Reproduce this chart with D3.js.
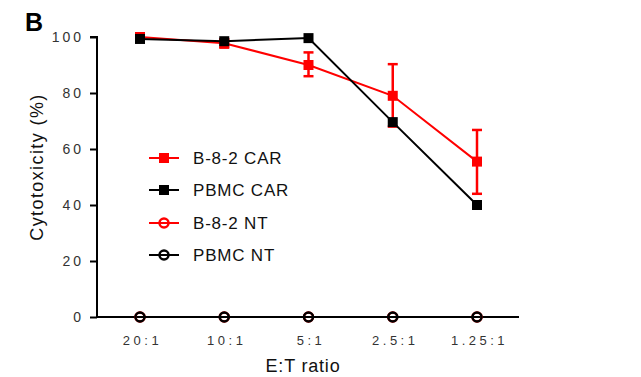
<!DOCTYPE html>
<html>
<head>
<meta charset="utf-8">
<script src="https://cdn.jsdelivr.net/npm/d3@7"></script>
<style>
body { margin: 0; background: #fff; }
text { font-family: "Liberation Sans", Arial, sans-serif; }
</style>
</head>
<body>
<div id="chart"></div>
<script>
var ratios = ["20:1", "10:1", "5:1", "2.5:1", "1.25:1"];
var yTicks = [0, 20, 40, 60, 80, 100];

var b82Car = [100, 97.8, 90, 79, 55.5];
var b82CarLo = [99, 96.2, 86, 68, 44];
var b82CarHi = [100.5, 99.2, 94.5, 90.3, 66.8];
var pbmcCar = [99.3, 98.5, 99.6, 69.6, 40];
var b82Nt = [0, 0, 0, 0, 0];
var pbmcNt = [0, 0, 0, 0, 0];

var legendNames = ["B-8-2 CAR", "PBMC CAR", "B-8-2 NT", "PBMC NT"];

var svg = d3.select("#chart")
    .append("svg")
    .attr("width", 641)
    .attr("height", 377);

var x = d3.scalePoint()
    .domain(ratios)
    .range([140, 477]);

var y = d3.scaleLinear()
    .domain([0, 100])
    .range([317, 37]);

// panel letter
svg.append("text")
    .attr("x", 25)
    .attr("y", 31)
    .attr("font-size", 25)
    .attr("font-weight", "bold")
    .attr("fill", "#000")
    .text("B");

// y axis
var yAxis = svg.append("g")
    .attr("transform", "translate(97,0)")
    .call(d3.axisLeft(y).tickValues(yTicks).tickSize(7).tickPadding(6));
yAxis.select(".domain").attr("stroke-width", 2).attr("d", "M-7," + y(100) + "H0V" + y(0));
yAxis.selectAll(".tick line").attr("stroke-width", 2);
yAxis.selectAll(".tick text")
    .attr("font-size", 14)
    .attr("fill", "#333")
    .style("letter-spacing", "3px");

// x axis
var xAxis = svg.append("g")
    .attr("transform", "translate(0,317)")
    .call(d3.axisBottom(x).tickSize(0).tickPadding(19));
xAxis.select(".domain").attr("stroke-width", 2).attr("d", "M97,0H519");
xAxis.selectAll(".tick text")
    .attr("font-size", 13)
    .attr("fill", "#333")
    .attr("dx", 2)
    .style("letter-spacing", "3.5px");

svg.append("text")
    .attr("x", 303)
    .attr("y", 372)
    .attr("text-anchor", "middle")
    .attr("font-size", 18)
    .attr("fill", "#111")
    .style("letter-spacing", "0.8px")
    .text("E:T ratio");

svg.append("text")
    .attr("transform", "translate(43,167) rotate(-90)")
    .attr("text-anchor", "middle")
    .attr("font-size", 18)
    .attr("fill", "#111")
    .style("letter-spacing", "1.4px")
    .text("Cytotoxicity (%)");

var line = d3.line()
    .x(function (d, i) { return x(ratios[i]); })
    .y(function (d) { return y(d); });

// red error bars
ratios.forEach(function (r, i) {
    var cx = x(r);
    svg.append("line")
        .attr("x1", cx).attr("x2", cx)
        .attr("y1", y(b82CarHi[i])).attr("y2", y(b82CarLo[i]))
        .style("stroke", "#ff0000").style("stroke-width", 2.5);
    [b82CarHi[i], b82CarLo[i]].forEach(function (v) {
        svg.append("line")
            .attr("x1", cx - 5).attr("x2", cx + 5)
            .attr("y1", y(v)).attr("y2", y(v))
            .style("stroke", "#ff0000").style("stroke-width", 2.5);
    });
});

function drawSquares(data, color) {
    svg.append("path")
        .datum(data)
        .attr("d", line)
        .attr("fill", "none")
        .style("stroke", color)
        .style("stroke-width", 2);
    svg.selectAll(null)
        .data(data)
        .enter()
        .append("rect")
        .attr("x", function (d, i) { return x(ratios[i]) - 5; })
        .attr("y", function (d) { return y(d) - 5; })
        .attr("width", 10)
        .attr("height", 10)
        .style("fill", color);
}

function drawCircles(data, color) {
    svg.append("path")
        .datum(data)
        .attr("d", line)
        .attr("fill", "none")
        .style("stroke", color)
        .style("stroke-width", 2);
    svg.selectAll(null)
        .data(data)
        .enter()
        .append("circle")
        .attr("cx", function (d, i) { return x(ratios[i]); })
        .attr("cy", function (d) { return y(d); })
        .attr("r", 4.5)
        .style("fill", "none")
        .style("stroke", color)
        .style("stroke-width", 2.5);
}

drawSquares(b82Car, "#ff0000");
drawSquares(pbmcCar, "#000000");
drawCircles(b82Nt, "#ff0000");
drawCircles(pbmcNt, "#000000");

// legend
var legendColors = ["#ff0000", "#000000", "#ff0000", "#000000"];
var legendShapes = ["square", "square", "circle", "circle"];
var legendY = [158, 190, 223, 255];

legendNames.forEach(function (name, i) {
    var ly = legendY[i];
    svg.append("line")
        .attr("x1", 149).attr("x2", 179)
        .attr("y1", ly).attr("y2", ly)
        .style("stroke", legendColors[i]).style("stroke-width", 2);
    if (legendShapes[i] == "square") {
        svg.append("rect")
            .attr("x", 159).attr("y", ly - 5)
            .attr("width", 10).attr("height", 10)
            .style("fill", legendColors[i]);
    } else {
        svg.append("circle")
            .attr("cx", 164).attr("cy", ly)
            .attr("r", 4.5)
            .style("fill", "none")
            .style("stroke", legendColors[i])
            .style("stroke-width", 2.5);
    }
    svg.append("text")
        .attr("x", 193)
        .attr("y", ly + 6)
        .attr("font-size", 17)
        .attr("fill", "#111")
        .style("letter-spacing", "0.8px")
        .text(name);
});
</script>
</body>
</html>
